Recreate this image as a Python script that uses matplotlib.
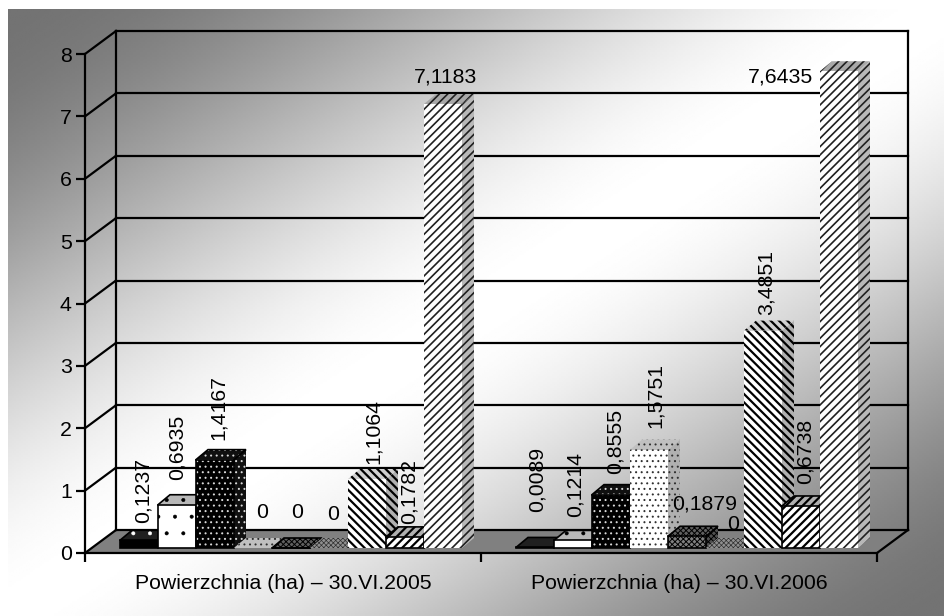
import numpy as np
import matplotlib
matplotlib.use("Agg")
import matplotlib.pyplot as plt
from matplotlib.patches import Polygon

plt.rcParams["font.family"] = ["Liberation Sans", "DejaVu Sans"]

WIDTH = 944
HEIGHT = 616

groups = ["Powierzchnia (ha) – 30.VI.2005", "Powierzchnia (ha) – 30.VI.2006"]
y_ticks = [0, 1, 2, 3, 4, 5, 6, 7, 8]
values_2005 = [0.1237, 0.6935, 1.4167, 0, 0, 0, 1.1064, 0.1782, 7.1183]
values_2006 = [0.0089, 0.1214, 0.8555, 1.5751, 0.1879, 0, 3.4851, 0.6738, 7.6435]
labels_2005 = ["0,1237", "0,6935", "1,4167", "0", "0", "0", "1,1064", "0,1782", "7,1183"]
labels_2006 = ["0,0089", "0,1214", "0,8555", "1,5751", "0,1879", "0", "3,4851", "0,6738", "7,6435"]

# label placement relative to the bar top, in pixels (dx, dy, rotation)
placing_2005 = [(4, 50, 90), (0, 57, 90), (3, 52, 90), (9, 36, 0), (6, 35, 0),
                (4, 33, 0), (6, 47, 90), (4, 45, 90), (2, 27, 0)]
placing_2006 = [(2, 68, 90), (2, 56, 90), (4, 53, 90), (6, 54, 90), (18, 32, 0),
                (8, 24, 0), (3, 48, 90), (4, 55, 90), (-59, -6, 0)]

# face, hatch colour, hatch, hatch width, outline, side face, top face
styles = [
    ("black", "white", ".", 0.4, "black", "#202020", "#202020"),
    ("white", "black", ".", 0.4, "black", "#a0a0a0", "#b8b8b8"),
    ("black", "#d8d8d8", "...", 0.7, "black", "#101010", "#101010"),
    ("white", "#303030", "...", 0.7, None, "#b0b0b0", "#c0c0c0"),
    ("#808080", "black", "xxxxxx", 0.7, "black", "#505050", "#606060"),
    ("#b0b0b0", "#303030", "xxxxxxx", 0.5, None, "#808080", "#909090"),
    ("white", "black", "\\\\\\\\", 1.6, None, "#b0b0b0", "#d0d0d0"),
    ("white", "black", "////", 1.6, "black", "#909090", "#b0b0b0"),
    ("white", "#202020", "////", 1.2, None, "#b8b8b8", "#a8a8a8"),
]

fig = plt.figure(figsize=(WIDTH / 100, HEIGHT / 100), dpi=100, facecolor="white")

# background: grey corners top-left and bottom-right, white diagonal between
bg = fig.add_axes([8 / WIDTH, 0, 1 - 8 / WIDTH, 1 - 9 / HEIGHT])
u, v = np.meshgrid(np.linspace(0, 1, 400), np.linspace(0, 1, 300))
shade = 1 - np.abs(u + v - 1)
shade = 0.45 + 0.55 * shade * shade * (3 - 2 * shade)
bg.imshow(shade, cmap="gray", vmin=0, vmax=1, aspect="auto", interpolation="bilinear")
bg.axis("off")

ax = fig.add_axes([85 / WIDTH, (HEIGHT - 553) / HEIGHT, 792 / WIDTH, 499 / HEIGHT])
ax.patch.set_visible(False)
ax.set_xlim(0, 2)
ax.set_ylim(0, 8)

px_x = 2 / 792
px_y = 8 / 499
wall_dx = 31 * px_x
wall_dy = 23 * px_y
bar_dx = 12 * px_x
bar_dy = 10 * px_y
lift = 5 * px_y
bar_w = 38 * px_x
start = 35 * px_x
lw = 1.6

# floor
ax.add_patch(Polygon([(0, 0), (2, 0), (2 + wall_dx, wall_dy), (wall_dx, wall_dy)],
                     facecolor="#808080", edgecolor="none", clip_on=False, zorder=1))

# back wall and grid
for t in y_ticks:
    ax.plot([wall_dx, 2 + wall_dx], [t + wall_dy, t + wall_dy], color="black", lw=lw,
            clip_on=False, zorder=2)
    ax.plot([0, wall_dx], [t, t + wall_dy], color="black", lw=lw, clip_on=False, zorder=2)
ax.plot([wall_dx, wall_dx], [wall_dy, 8 + wall_dy], color="black", lw=lw, clip_on=False, zorder=2)
ax.plot([2 + wall_dx, 2 + wall_dx], [wall_dy, 8 + wall_dy], color="black", lw=lw,
        clip_on=False, zorder=2)
ax.plot([2, 2 + wall_dx], [0, wall_dy], color="black", lw=lw, clip_on=False, zorder=2)


def draw_bar(x, value, style, order):
    face, hatch_col, hatch, hatch_w, outline, side, top = style
    plt.rcParams["hatch.linewidth"] = hatch_w
    y0 = lift
    y1 = lift + value
    if value > 0:
        ax.add_patch(Polygon([(x + bar_w, y0), (x + bar_w + bar_dx, y0 + bar_dy),
                              (x + bar_w + bar_dx, y1 + bar_dy), (x + bar_w, y1)],
                             facecolor=side, edgecolor=hatch_col, hatch=hatch, lw=0,
                             zorder=order))
    ax.add_patch(Polygon([(x, y1), (x + bar_w, y1), (x + bar_w + bar_dx, y1 + bar_dy),
                          (x + bar_dx, y1 + bar_dy)],
                         facecolor=top, edgecolor=hatch_col, hatch=hatch, lw=0, zorder=order))
    if value > 0:
        ax.bar(x, value, bar_w, bottom=lift, align="edge", color=face, edgecolor=hatch_col,
               hatch=hatch, linewidth=0, zorder=order)
    if outline:
        corners = [(x, y0), (x + bar_w, y0), (x + bar_w, y1), (x + bar_w + bar_dx, y1 + bar_dy),
                   (x + bar_dx, y1 + bar_dy), (x, y1)]
        ax.add_patch(Polygon(corners, closed=True, fill=False, edgecolor=outline, lw=1.2,
                             zorder=order))
        ax.plot([x, x + bar_w], [y1, y1], color=outline, lw=1.2, zorder=order)


def draw_group(pos, values, labels, placing):
    for i, value in enumerate(values):
        x = pos + start + i * bar_w
        draw_bar(x, value, styles[i], 3 + i)
        dx, dy, rot = placing[i]
        ax.annotate(labels[i], (x + bar_w / 2, lift + value), xytext=(dx, dy),
                    textcoords="offset pixels", rotation=rot, ha="center", va="center",
                    fontsize=15.3, color="black", zorder=20, annotation_clip=False)


draw_group(0, values_2005, labels_2005, placing_2005)
draw_group(1, values_2006, labels_2006, placing_2006)

# front axis lines and ticks
for side_name in ["top", "right"]:
    ax.spines[side_name].set_visible(False)
for side_name in ["left", "bottom"]:
    ax.spines[side_name].set_linewidth(lw)
    ax.spines[side_name].set_zorder(15)
ax.set_yticks(y_ticks)
ax.tick_params(axis="y", length=6.5, width=lw, labelsize=15.3, pad=3)
ax.set_xticks([0, 1, 2])
ax.set_xticklabels([])
ax.tick_params(axis="x", length=6.5, width=lw)
ax.set_xticks([0.5, 1.5], minor=True)
ax.set_xticklabels(groups, minor=True, fontsize=15.3)
ax.tick_params(axis="x", which="minor", length=0, pad=15)

plt.savefig("out.png", dpi=100)
plt.close()
